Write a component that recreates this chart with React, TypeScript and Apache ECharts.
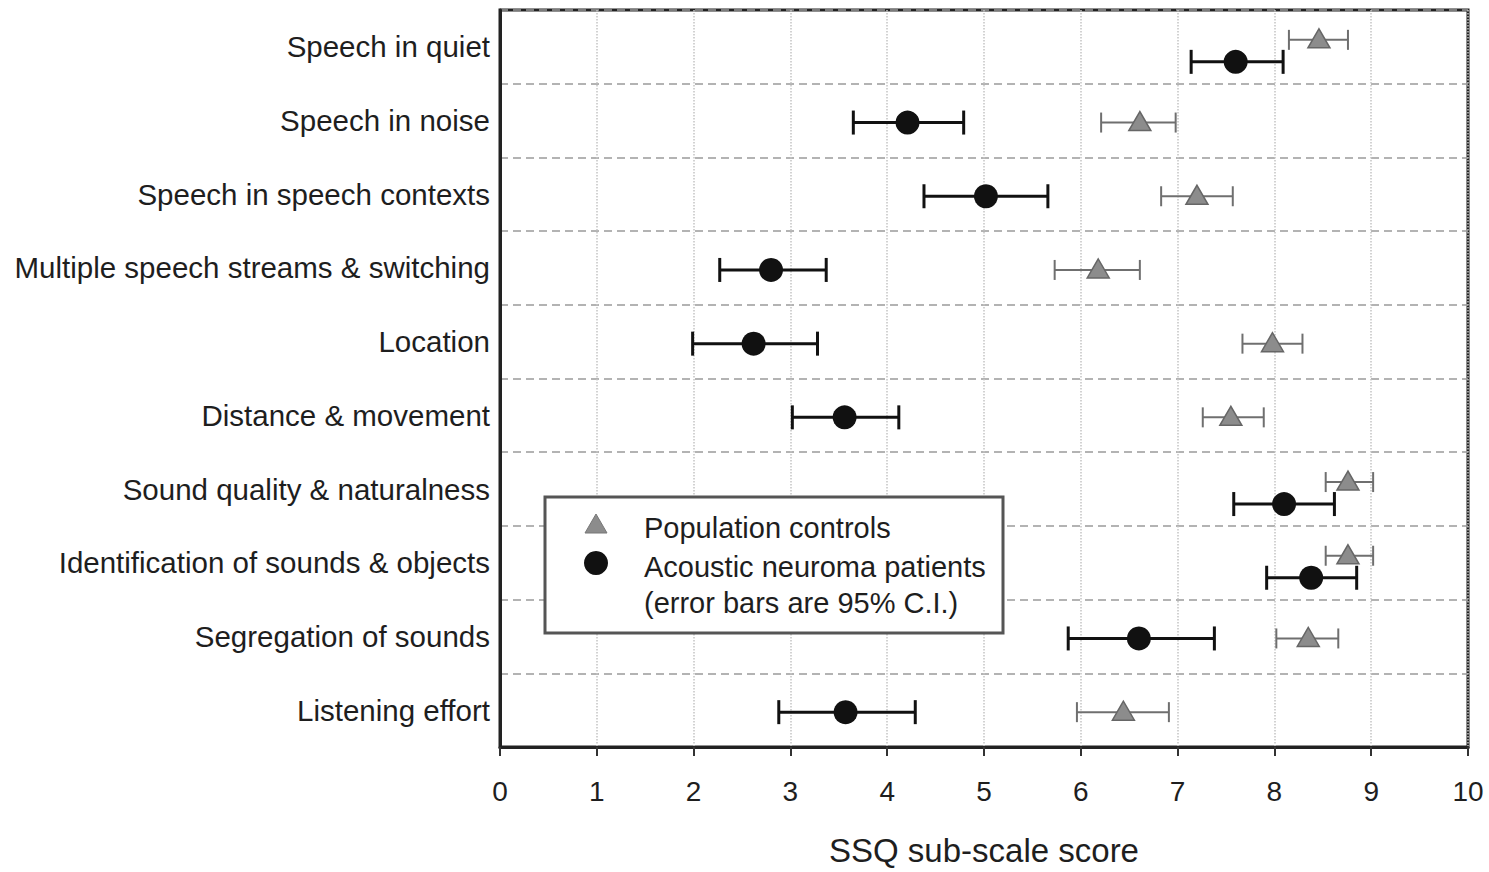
import React, { useEffect, useRef } from "react";
import * as echarts from "echarts";

const categories = [
  "Speech in quiet",
  "Speech in noise",
  "Speech in speech contexts",
  "Multiple speech streams & switching",
  "Location",
  "Distance & movement",
  "Sound quality & naturalness",
  "Identification of sounds & objects",
  "Segregation of sounds",
  "Listening effort",
];

const controlMean = [8.46, 6.61, 7.2, 6.18, 7.98, 7.55, 8.76, 8.76, 8.35, 6.44];
const controlLow = [8.15, 6.21, 6.83, 5.73, 7.67, 7.26, 8.53, 8.53, 8.02, 5.96];
const controlHigh = [8.76, 6.98, 7.57, 6.61, 8.29, 7.89, 9.02, 9.02, 8.66, 6.91];

const patientMean = [7.6, 4.21, 5.02, 2.8, 2.62, 3.56, 8.1, 8.38, 6.6, 3.57];
const patientLow = [7.14, 3.65, 4.38, 2.27, 1.99, 3.02, 7.58, 7.92, 5.87, 2.88];
const patientHigh = [8.09, 4.79, 5.66, 3.37, 3.28, 4.12, 8.62, 8.85, 7.38, 4.29];

const xTicks = [0, 1, 2, 3, 4, 5, 6, 7, 8, 9, 10];

const FONT = "'Liberation Sans', Arial, sans-serif";
const TEXT_COLOR = "#1e1e1e";
const CONTROL_COLOR = "#8c8c8c";
const PATIENT_COLOR = "#111111";

function isClose(i: number) {
  return controlMean[i] - patientMean[i] < 1;
}

function makeRender(kind: "control" | "patient") {
  return (params: any, api: any) => {
    const idx = api.value(0) as number;
    const mean = api.value(1) as number;
    const lo = api.value(2) as number;
    const hi = api.value(3) as number;
    const c = api.coord([mean, idx]);
    const l = api.coord([lo, idx]);
    const h = api.coord([hi, idx]);
    let dy = 2;
    if (isClose(idx)) dy = kind === "control" ? -7 : 15;
    const y = c[1] + dy;
    if (kind === "patient") {
      const cap = 12;
      const st = { stroke: PATIENT_COLOR, lineWidth: 3 };
      return {
        type: "group",
        children: [
          { type: "line", shape: { x1: l[0], y1: y, x2: h[0], y2: y }, style: st },
          { type: "line", shape: { x1: l[0], y1: y - cap, x2: l[0], y2: y + cap }, style: st },
          { type: "line", shape: { x1: h[0], y1: y - cap, x2: h[0], y2: y + cap }, style: st },
          { type: "circle", shape: { cx: c[0], cy: y, r: 12 }, style: { fill: PATIENT_COLOR } },
        ],
      };
    }
    const cap = 10;
    const st = { stroke: "#6f6f6f", lineWidth: 2 };
    return {
      type: "group",
      children: [
        { type: "line", shape: { x1: l[0], y1: y, x2: h[0], y2: y }, style: st },
        { type: "line", shape: { x1: l[0], y1: y - cap, x2: l[0], y2: y + cap }, style: st },
        { type: "line", shape: { x1: h[0], y1: y - cap, x2: h[0], y2: y + cap }, style: st },
        {
          type: "polygon",
          shape: {
            points: [
              [c[0], y - 11],
              [c[0] - 11, y + 8],
              [c[0] + 11, y + 8],
            ],
          },
          style: { fill: CONTROL_COLOR, stroke: "#666", lineWidth: 1.5 },
        },
      ],
    };
  };
}

export default function App() {
  const ref = useRef<HTMLDivElement>(null);
  useEffect(() => {
    document.body.style.margin = "0";
    if (!ref.current) return;
    const chart = echarts.init(ref.current, undefined, { renderer: "svg" });
    const controlData = categories.map((_, i) => [i, controlMean[i], controlLow[i], controlHigh[i]]);
    const patientData = categories.map((_, i) => [i, patientMean[i], patientLow[i], patientHigh[i]]);
    const LX = 545;
    const LY = 497;
    chart.setOption({
      animation: false,
      backgroundColor: "#ffffff",
      grid: {
        left: 500,
        right: 21,
        top: 10,
        bottom: 120,
        show: true,
        borderColor: "#222",
        borderWidth: 3,
        containLabel: false,
      },
      xAxis: {
        type: "value",
        min: 0,
        max: 10,
        interval: 1,
        name: "SSQ sub-scale score",
        nameLocation: "middle",
        nameGap: 87,
        nameTextStyle: { fontFamily: FONT, fontSize: 33, color: TEXT_COLOR },
        axisLine: { show: true, lineStyle: { color: "#222", width: 3 } },
        axisTick: { show: true, length: 9, lineStyle: { color: "#333", width: 2 } },
        axisLabel: {
          fontFamily: FONT,
          fontSize: 28,
          color: TEXT_COLOR,
          margin: 30,
          formatter: (v: number) => (xTicks.includes(v) ? String(v) : ""),
        },
        splitLine: { show: true, lineStyle: { color: "#c4c4c4", type: "dotted", width: 1.5 } },
      },
      yAxis: {
        type: "category",
        inverse: true,
        data: categories,
        axisLine: { show: true, lineStyle: { color: "#222", width: 3 } },
        axisTick: { show: false },
        axisLabel: { fontFamily: FONT, fontSize: 29.5, color: TEXT_COLOR, margin: 10, interval: 0 },
        splitLine: {
          show: true,
          interval: 0,
          lineStyle: { color: "#9a9a9a", type: [8, 5], width: 1.5 },
        },
      },
      series: [
        {
          name: "Population controls",
          type: "custom",
          renderItem: makeRender("control"),
          encode: { x: [1, 2, 3], y: 0 },
          itemStyle: { color: CONTROL_COLOR },
          data: controlData,
          z: 3,
        },
        {
          name: "Acoustic neuroma patients",
          type: "custom",
          renderItem: makeRender("patient"),
          encode: { x: [1, 2, 3], y: 0 },
          itemStyle: { color: PATIENT_COLOR },
          data: patientData,
          z: 4,
        },
      ],
      graphic: [
        {
          type: "rect",
          z: 100,
          shape: { x: LX, y: LY, width: 458, height: 136 },
          style: { fill: "#fff", stroke: "#555", lineWidth: 3 },
        },
        {
          type: "polygon",
          z: 101,
          shape: { points: [[LX + 51, LY + 17], [LX + 40, LY + 36], [LX + 62, LY + 36]] },
          style: { fill: CONTROL_COLOR, stroke: "#777", lineWidth: 1 },
        },
        {
          type: "circle",
          z: 101,
          shape: { cx: LX + 51, cy: LY + 66, r: 12 },
          style: { fill: PATIENT_COLOR },
        },
        {
          type: "text",
          z: 101,
          x: LX + 99,
          y: LY + 31,
          style: {
            text: "Population controls",
            font: `29px ${FONT}`,
            fill: TEXT_COLOR,
            textVerticalAlign: "middle",
          },
        },
        {
          type: "text",
          z: 101,
          x: LX + 99,
          y: LY + 70,
          style: {
            text: "Acoustic neuroma patients",
            font: `29px ${FONT}`,
            fill: TEXT_COLOR,
            textVerticalAlign: "middle",
          },
        },
        {
          type: "text",
          z: 101,
          x: LX + 99,
          y: LY + 106,
          style: {
            text: "(error bars are 95% C.I.)",
            font: `29px ${FONT}`,
            fill: TEXT_COLOR,
            textVerticalAlign: "middle",
          },
        },
      ],
    });
    return () => chart.dispose();
  }, []);
  return <div ref={ref} style={{ width: 1489, height: 872 }} />;
}
